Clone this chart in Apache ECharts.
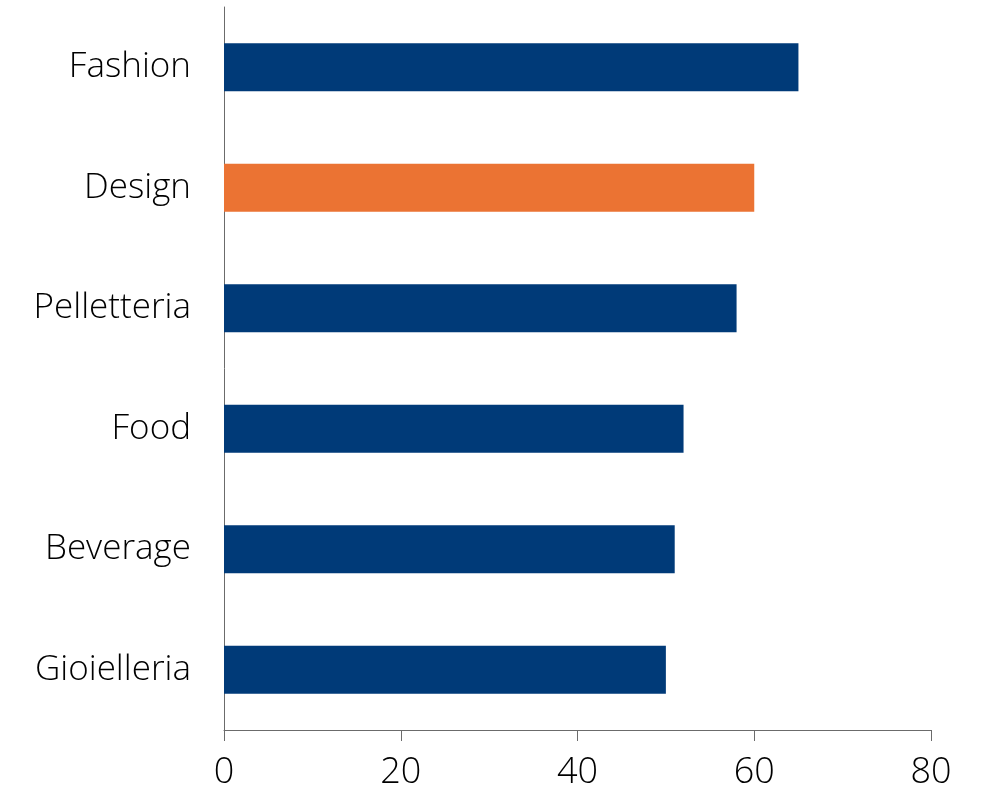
<!DOCTYPE html>
<html><head><meta charset="utf-8">
<script src="https://cdn.jsdelivr.net/npm/echarts@6/dist/echarts.min.js"></script>
<style>html,body{margin:0;padding:0;background:#fff}#c{width:981px;height:791px}</style>
</head><body><div id="c"></div>
<script>
const categories = ['Gioielleria','Beverage','Food','Pelletteria','Design','Fashion'];
const values = [50, 51, 52, 58, 60, 65];
const highlight = 'Design';
const xTicks = [0, 20, 40, 60, 80];

const navy = '#003A78', orange = '#EB7333';
const font = '"Open Sans", sans-serif';
const chart = echarts.init(document.getElementById('c'));
chart.setOption({
  animation: false,
  grid: {left: 224, right: 50, top: 7, bottom: 59, containLabel: false},
  xAxis: {
    type: 'value', min: xTicks[0], max: xTicks[xTicks.length-1], interval: 20,
    axisLine: {show: true, lineStyle: {color: '#6b6b6b', width: 1}},
    axisTick: {show: true, length: 11, lineStyle: {color: '#6b6b6b'}},
    splitLine: {show: false},
    axisLabel: {fontFamily: font, fontSize: 36, fontWeight: 300, color: '#000', margin: 25}
  },
  yAxis: {
    type: 'category', data: categories,
    axisLine: {show: true, lineStyle: {color: '#6b6b6b', width: 1}},
    axisTick: {show: false},
    axisLabel: {fontFamily: font, fontSize: 35, fontWeight: 300, color: '#000', margin: 33, padding: [10, 0, 0, 0]}
  },
  series: [{
    type: 'bar', barWidth: '40%',
    data: values.map((v, i) => ({value: v, itemStyle: {color: categories[i] === highlight ? orange : navy}}))
  }]
});
</script></body></html>
